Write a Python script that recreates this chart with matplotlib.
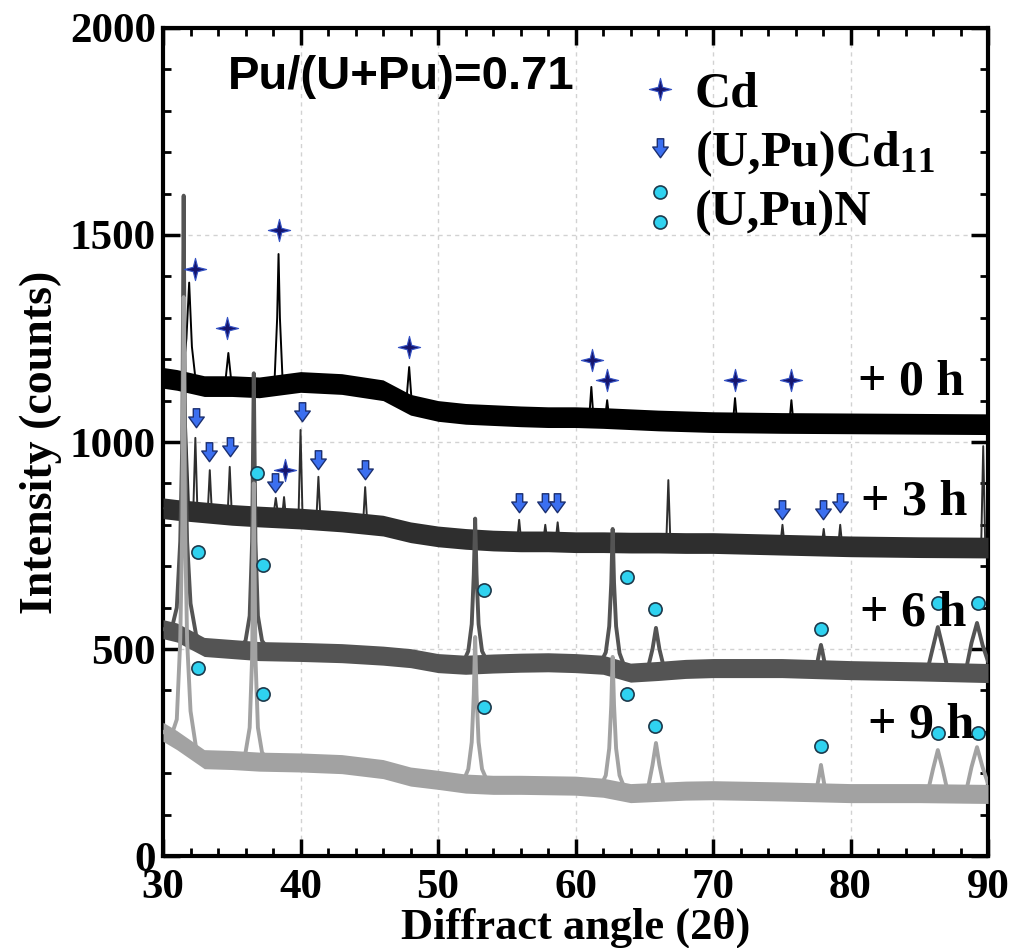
import numpy as np
import matplotlib.pyplot as plt
from matplotlib.path import Path
from matplotlib.lines import Line2D
from matplotlib.ticker import MultipleLocator
from matplotlib.font_manager import FontProperties

plt.rcParams['font.family'] = ['Liberation Serif', 'DejaVu Serif']
plt.rcParams['font.weight'] = 'bold'
plt.rcParams['mathtext.fontset'] = 'custom'
plt.rcParams['mathtext.rm'] = 'Liberation Serif:bold'
plt.rcParams['mathtext.bf'] = 'Liberation Serif:bold'
plt.rcParams['mathtext.default'] = 'bf'

# noise band centre lines
bx = [30, 31, 33, 35, 37, 40, 43, 46, 48, 50, 52, 54, 56, 58, 60, 62, 64, 66, 68, 70, 75, 80, 85, 90]
base_0h = [1155, 1150, 1135, 1135, 1132, 1145, 1140, 1125, 1090, 1075, 1068, 1065, 1062, 1060, 1060, 1058, 1055, 1052, 1050, 1048, 1046, 1045, 1044, 1043]
base_3h = [840, 836, 830, 824, 820, 815, 808, 798, 782, 772, 766, 762, 760, 760, 758, 758, 757, 757, 756, 756, 752, 748, 746, 745]
base_6h = [548, 540, 505, 500, 495, 493, 490, 484, 478, 466, 462, 465, 467, 468, 466, 462, 443, 447, 452, 454, 454, 449, 446, 442]
base_9h = [300, 280, 234, 232, 228, 226, 222, 210, 192, 184, 175, 172, 172, 171, 170, 165, 152, 155, 158, 159, 156, 152, 152, 150]
noise = [25, 25, 23, 23]

# pattern traces with peaks
x_0h = [30.0, 31.4, 31.7, 31.9, 32.1, 32.4, 33.0, 34.5, 34.75, 35.0, 37.0, 38.1, 38.3, 38.4, 38.5, 38.7, 40.0, 43.0, 46.0,
        47.7, 47.9, 48.1, 50.0, 54.0, 58.0, 61.0, 61.15, 61.3, 62.15, 62.3, 62.45, 66.0, 71.45, 71.6, 71.75,
        75.55, 75.7, 75.85, 80.0, 90.0]
y_0h = [1155, 1150, 1250, 1385, 1230, 1140, 1135, 1135, 1215, 1135, 1132, 1140, 1300, 1454, 1300, 1145, 1145, 1140, 1125,
        1100, 1181, 1090, 1075, 1065, 1060, 1060, 1133, 1060, 1058, 1101, 1058, 1052, 1048, 1106, 1048,
        1046, 1101, 1046, 1045, 1043]

x_3h = [30.0, 31.3, 31.6, 31.9, 32.2, 32.35, 32.5, 33.25, 33.4, 33.55, 34.7, 34.85, 35.0, 36.45, 36.6, 36.75,
        38.0, 38.2, 38.4, 38.65, 38.8, 38.95, 39.85, 40.0, 40.15, 41.15, 41.3, 41.45, 44.55, 44.7, 44.85,
        48.0, 52.0, 55.75, 55.9, 56.05, 57.65, 57.8, 57.95, 58.55, 58.7, 58.85, 62.0, 66.6, 66.75, 66.9,
        70.0, 74.9, 75.05, 75.2, 77.9, 78.05, 78.2, 79.1, 79.25, 79.4, 85.0, 89.5, 89.65, 89.8, 90.0]
y_3h = [840, 836, 1100, 836, 834, 1010, 834, 830, 932, 830, 826, 940, 826, 820, 1000, 820,
        816, 865, 816, 816, 867, 815, 815, 1029, 814, 812, 916, 812, 804, 891, 804,
        782, 766, 760, 812, 760, 760, 800, 760, 760, 806, 760, 758, 757, 908, 757,
        756, 753, 800, 753, 749, 790, 749, 748, 800, 748, 746, 745, 990, 745, 745]

x_6h = [30.0, 30.6, 31.0, 31.25, 31.4, 31.5, 31.6, 31.75, 32.0, 32.4, 33.0, 35.5, 36.0, 36.3, 36.48, 36.6, 36.72,
        36.9, 37.2, 37.7, 40.0, 46.0, 50.0, 51.8, 52.2, 52.45, 52.6, 52.7, 52.8, 52.95, 53.2, 53.7, 56.0, 60.0,
        61.8, 62.2, 62.45, 62.6, 62.7, 62.8, 62.95, 63.2, 63.7, 65.2, 65.6, 65.85, 66.1, 66.5, 70.0,
        77.5, 77.75, 77.85, 77.95, 78.2, 85.6, 86.0, 86.35, 86.7, 87.1, 88.4, 88.8, 89.2, 89.6, 90.0]
y_6h = [548, 545, 600, 760, 1000, 1595, 1000, 760, 610, 535, 505, 500, 520, 580, 760, 1166, 760,
        580, 520, 497, 493, 484, 466, 465, 495, 560, 680, 815, 680, 560, 495, 462, 467, 466,
        465, 492, 555, 660, 790, 660, 555, 490, 445, 445, 500, 551, 500, 445, 454,
        454, 495, 510, 495, 452, 450, 505, 553, 505, 447, 450, 515, 563, 510, 470]

x_9h = [30.0, 30.6, 31.0, 31.25, 31.4, 31.5, 31.6, 31.75, 32.0, 32.4, 33.0, 35.5, 36.0, 36.3, 36.48, 36.6, 36.72,
        36.9, 37.2, 37.7, 40.0, 46.0, 50.0, 51.8, 52.2, 52.45, 52.6, 52.7, 52.8, 52.95, 53.2, 53.7, 56.0, 60.0,
        61.8, 62.2, 62.45, 62.6, 62.7, 62.8, 62.95, 63.2, 63.7, 65.2, 65.6, 65.85, 66.1, 66.5, 70.0,
        77.5, 77.75, 77.85, 77.95, 78.2, 85.6, 86.0, 86.35, 86.7, 87.1, 88.4, 88.8, 89.2, 89.6, 90.0]
y_9h = [300, 290, 330, 520, 800, 1350, 800, 520, 350, 262, 234, 232, 250, 310, 480, 900, 480,
        310, 250, 230, 226, 210, 184, 178, 210, 275, 390, 529, 390, 275, 210, 172, 172, 170,
        166, 195, 260, 365, 481, 365, 260, 195, 152, 152, 220, 273, 220, 155, 159,
        156, 200, 220, 200, 153, 152, 210, 256, 210, 150, 155, 215, 263, 215, 175]

# phase markers
cd_x = [32.3, 34.65, 38.4, 47.9, 61.2, 62.3, 71.6, 75.7, 38.9]
cd_y = [1418, 1275, 1512, 1230, 1198, 1150, 1150, 1150, 932]
cd11_x = [32.4, 33.35, 34.9, 38.15, 40.1, 41.3, 44.7, 55.9, 57.8, 58.65, 75.0, 78.0, 79.25]
cd11_y = [1058, 976, 988, 901, 1072, 957, 932, 853, 853, 853, 836, 836, 853]
n_x = [36.85, 32.55, 37.3, 53.35, 63.75, 65.8, 77.85, 86.35, 89.3, 32.55, 37.3, 53.35, 63.75, 65.8, 77.85, 86.35, 89.3]
n_y = [925, 734, 703, 643, 674, 597, 548, 611, 611, 454, 391, 360, 391, 314, 266, 297, 297]

labels = ['+ 0 h', '+ 3 h', '+ 6 h', '+ 9 h']
label_x = [88.3, 88.5, 88.4, 89.0]
label_y = [1143, 853, 587, 316]

colors = ['#000000', '#2e2e2e', '#545454', '#a2a2a2']
bases = [base_0h, base_3h, base_6h, base_9h]
traces = [(x_0h, y_0h), (x_3h, y_3h), (x_6h, y_6h), (x_9h, y_9h)]
widths = [1.4, 1.4, 2.8, 2.8]

star = Path([(0, 1), (0.2, 0.2), (1, 0), (0.2, -0.2), (0, -1), (-0.2, -0.2), (-1, 0), (-0.2, 0.2), (0, 1)],
            [Path.MOVETO] + [Path.LINETO] * 7 + [Path.CLOSEPOLY])
arrow = Path([(-0.33, 1), (0.33, 1), (0.33, 0.15), (0.8, 0.15), (0, -0.95), (-0.8, 0.15), (-0.33, 0.15), (-0.33, 1)],
             [Path.MOVETO] + [Path.LINETO] * 6 + [Path.CLOSEPOLY])
two_dots = Path.make_compound_path(Path.circle((0, 2.3), 1.0), Path.circle((0, -2.3), 1.0))

fig = plt.figure(figsize=(10.19, 9.48), dpi=100)
ax = fig.add_axes([0.160, 0.097, 0.8096, 0.8735])

for i in range(4):
    b = np.array(bases[i])
    ax.fill_between(bx, b - noise[i], b + noise[i], color=colors[i], lw=0, zorder=2 + i)
    ax.plot(traces[i][0], traces[i][1], color=colors[i], lw=widths[i], zorder=2 + i)
    ax.text(label_x[i], label_y[i], labels[i], ha='right', va='center', fontsize=36,
            fontweight='bold', zorder=10)

ax.plot(cd_x, cd_y, ls='none', marker=star, ms=16, mfc='#15156e', mec='#3452c4', mew=0.8, zorder=8)
ax.plot(cd11_x, cd11_y, ls='none', marker=arrow, ms=14, mfc='#3b6ff0', mec='#1b2f70', mew=1.0, zorder=8)
ax.plot(n_x, n_y, ls='none', marker='o', ms=9.5, mfc='#2fd2f0', mec='#1d3a4c', mew=1.2, zorder=8)

handles = [Line2D([], [], ls='none', marker=star, ms=16, mfc='#15156e', mec='#3452c4', mew=0.8),
           Line2D([], [], ls='none', marker=arrow, ms=14, mfc='#3b6ff0', mec='#1b2f70', mew=1.0),
           Line2D([], [], ls='none', marker=two_dots, ms=31, mfc='#2fd2f0', mec='#1d3a4c', mew=1.2)]
ax.legend(handles, ['Cd', '(U,Pu)Cd$_{11}$', '(U,Pu)N'], loc='upper left', bbox_to_anchor=(0.572, 0.948),
          frameon=False, handlelength=1.0, handletextpad=0.2, labelspacing=0.22, borderpad=0,
          borderaxespad=0, prop=FontProperties(family='Liberation Serif', weight='bold', size=36))

ax.text(0.079, 0.941, 'Pu/(U+Pu)=0.71', transform=ax.transAxes, ha='left', va='center',
        fontsize=34, fontweight='bold', family='Liberation Sans', zorder=10)

ax.set_xlim(30, 90)
ax.set_ylim(0, 2000)
ax.xaxis.set_major_locator(MultipleLocator(10))
ax.xaxis.set_minor_locator(MultipleLocator(2))
ax.yaxis.set_major_locator(MultipleLocator(500))
ax.yaxis.set_minor_locator(MultipleLocator(100))
ax.tick_params(which='both', direction='in', top=True, right=True)
ax.tick_params(which='major', length=12, width=2.5, labelsize=31)
ax.tick_params(which='minor', length=6, width=2)
ax.tick_params(axis='x', pad=9)
ax.tick_params(axis='y', pad=5)
for lab in ax.get_xticklabels() + ax.get_yticklabels():
    lab.set_fontweight('bold')
for s in ax.spines.values():
    s.set_linewidth(3)

ax.grid(True, which='major', ls=(0, (3, 3)), color='#d2d2d2', lw=1)
ax.set_axisbelow(True)

ax.set_xlabel('Diffract angle (2θ)', fontsize=32, fontweight='bold')
ax.set_ylabel('Intensity (counts)', fontsize=33, fontweight='bold')
ax.xaxis.set_label_coords(0.5, -0.062)
ax.yaxis.set_label_coords(-0.122, 0.5)

fig.savefig('out.png', dpi=100)
